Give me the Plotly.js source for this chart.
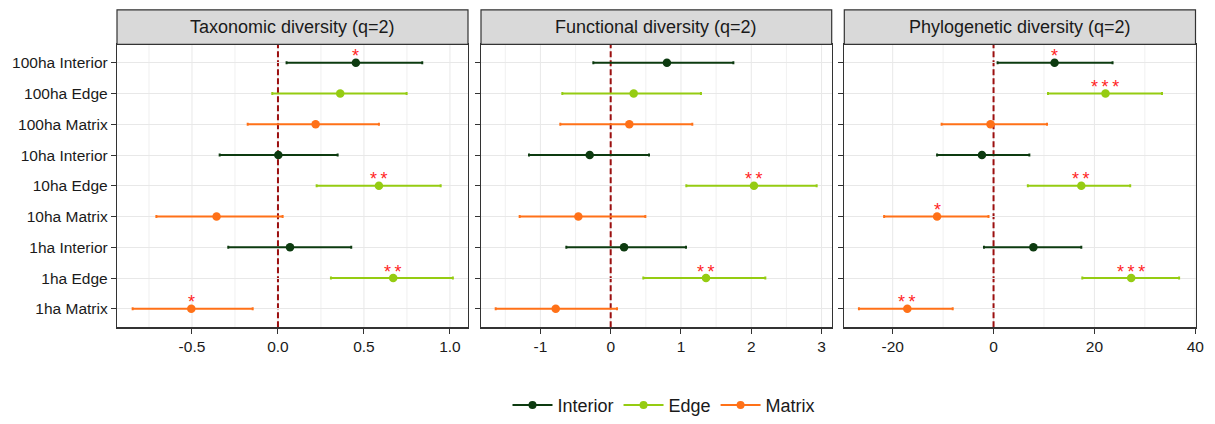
<!DOCTYPE html>
<html>
<head>
<meta charset="utf-8">
<script src="https://cdn.plot.ly/plotly-3.0.1.min.js"></script>
<style>html,body{margin:0;padding:0;background:#fff;}#chart{width:1215px;height:424px;}</style>
</head>
<body>
<div id="chart"></div>
<script>
// ---- Data ----
const categories = ['100ha Interior','100ha Edge','100ha Matrix','10ha Interior','10ha Edge','10ha Matrix','1ha Interior','1ha Edge','1ha Matrix'];
const groups = ['Interior','Edge','Matrix'];
const panelTitles = ['Taxonomic diversity (q=2)','Functional diversity (q=2)','Phylogenetic diversity (q=2)'];

const taxEst  = [0.453, 0.362, 0.219, 0.002, 0.587, -0.357, 0.070, 0.670, -0.504];
const taxLow  = [0.050, -0.033, -0.176, -0.339, 0.225, -0.707, -0.289, 0.308, -0.845];
const taxHigh = [0.839, 0.748, 0.587, 0.347, 0.946, 0.027, 0.426, 1.017, -0.147];
const taxSig  = ['*','','','','**','','','**','*'];

const funEst  = [0.800, 0.327, 0.265, -0.299, 2.038, -0.460, 0.190, 1.356, -0.782];
const funLow  = [-0.247, -0.688, -0.717, -1.162, 1.076, -1.295, -0.631, 0.464, -1.636];
const funHigh = [1.745, 1.284, 1.161, 0.545, 2.930, 0.493, 1.071, 2.200, 0.090];
const funSig  = ['','','','','**','','','**',''];

const phyEst  = [12.1, 22.2, -0.6, -2.3, 17.4, -11.2, 7.9, 27.3, -17.1];
const phyLow  = [0.8, 10.8, -10.3, -11.2, 6.8, -21.7, -1.9, 17.6, -26.7];
const phyHigh = [23.6, 33.4, 10.6, 7.1, 27.1, -1.0, 17.4, 36.8, -8.1];
const phySig  = ['*','***','','','**','*','','***','**'];

const xTicks0 = [-0.5, 0.0, 0.5, 1.0];
const xTickText0 = ['-0.5','0.0','0.5','1.0'];
const xTicks1 = [-1, 0, 1, 2, 3];
const xTicks2 = [-20, 0, 20, 40];

// ---- Styling ----
const colors = {Interior:'#0d3b10', Edge:'#95cc12', Matrix:'#ff7118'};
const W = 1215, H = 424;
const px = v => v / W, py = v => 1 - v / H;
const panels = [
  {est: taxEst, low: taxLow, high: taxHigh, sig: taxSig, dom:[117,468], range:[-0.936,1.105], minor:0.25, tickvals:xTicks0, ticktext:xTickText0},
  {est: funEst, low: funLow, high: funHigh, sig: funSig, dom:[481,831.7], range:[-1.845,3.144], minor:0.5, tickvals:xTicks1, ticktext:xTicks1.map(String)},
  {est: phyEst, low: phyLow, high: phyHigh, sig: phySig, dom:[844.3,1195.5], range:[-29.6,40.05], minor:10, tickvals:xTicks2, ticktext:xTicks2.map(String)}
];
const plotTop = 45, plotBottom = 332, stripTop = 10;
const font = 'Liberation Sans, Arial, sans-serif';

const traces = [];
const annotations = [];
const shapes = [];
const layout = {
  width: W, height: H,
  margin: {l:0, r:0, t:0, b:0},
  paper_bgcolor: '#ffffff', plot_bgcolor: 'rgba(0,0,0,0)',
  font: {family: font, color: '#1a1a1a'},
  showlegend: true,
  legend: {orientation:'h', x: 664/W, xanchor:'center', y: 1 - 411/H, yanchor:'middle', itemwidth: 40,
           font:{size:18, family:font, color:'#1a1a1a'}, itemclick:false, tracegroupgap:0},
  annotations: annotations, shapes: shapes
};

panels.forEach((p, k) => {
  const xa = 'x' + (k === 0 ? '' : k + 1), ya = 'y' + (k === 0 ? '' : k + 1);
  const xKey = 'xaxis' + (k === 0 ? '' : k + 1), yKey = 'yaxis' + (k === 0 ? '' : k + 1);
  layout[xKey] = {
    domain: [px(p.dom[0]), px(p.dom[1])], anchor: ya, range: p.range,
    tickmode: 'array', tickvals: p.tickvals, ticktext: p.ticktext,
    showgrid: false,
    zeroline: false, showline: true, mirror: true, linecolor: '#333333', linewidth: 1.2,
    ticks: 'outside', ticklen: 5, tickwidth: 1, tickcolor: '#333333',
    tickfont: {size: 15.5, family: font, color: '#1a1a1a'}, fixedrange: true
  };
  layout[yKey] = {
    domain: [py(plotBottom), py(plotTop)], anchor: xa,
    type: 'category', categoryorder: 'array', categoryarray: categories,
    range: [categories.length - 0.4, -0.6],
    showgrid: true, gridcolor: '#e8e8e8', gridwidth: 1,
    zeroline: false, showline: true, mirror: true, linecolor: '#333333', linewidth: 1.2,
    ticks: 'outside', ticklen: 5, tickwidth: 1, tickcolor: '#333333',
    showticklabels: k === 0,
    tickfont: {size: 15.5, family: font, color: '#1a1a1a'}, fixedrange: true
  };

  // vertical grid lines (major + minor), drawn as shapes beneath the zero line
  const gStart = Math.ceil(p.range[0] / p.minor), gEnd = Math.floor(p.range[1] / p.minor);
  for (let g = gStart; g <= gEnd; g++) {
    const gx = g * p.minor;
    const isMajor = p.tickvals.some(t => Math.abs(t - gx) < 1e-9);
    shapes.push({type:'line', xref: xa, yref: ya + ' domain', x0: gx, x1: gx, y0: 0, y1: 1, layer: 'below',
                 line: {color: isMajor ? '#e8e8e8' : '#ececec', width: isMajor ? 1 : 0.8}});
  }
  // reference line at zero
  shapes.push({type:'line', xref: xa, yref: ya + ' domain', x0: 0, x1: 0, y0: 0, y1: 1,
               line: {color:'#9b0f0f', width: 2, dash: '6px,3px'}, layer: 'below'});
  // strip
  shapes.push({type:'rect', xref:'paper', yref:'paper', x0: px(p.dom[0]), x1: px(p.dom[1]),
               y0: py(plotTop), y1: py(stripTop), fillcolor:'#d9d9d9', line:{color:'#333333', width:1.2}});
  annotations.push({xref:'paper', yref:'paper', x: px((p.dom[0] + p.dom[1]) / 2), y: py((plotTop + stripTop) / 2),
                    text: panelTitles[k], showarrow:false, xanchor:'center', yanchor:'middle',
                    font:{size:18, family:font, color:'#1a1a1a'}});

  groups.forEach(g => {
    const idx = categories.map((c, i) => c.endsWith(g) ? i : -1).filter(i => i >= 0);
    traces.push({
      type: 'scatter', mode: 'markers', xaxis: xa, yaxis: ya, showlegend: false, hoverinfo: 'skip',
      x: idx.map(i => p.est[i]), y: idx.map(i => categories[i]),
      marker: {color: colors[g], size: 8.5},
      error_x: {type:'data', symmetric:false,
                array: idx.map(i => p.high[i] - p.est[i]),
                arrayminus: idx.map(i => p.est[i] - p.low[i]),
                color: colors[g], thickness: 2, width: 1.5}
    });
  });

  p.sig.forEach((s, i) => {
    if (!s) return;
    annotations.push({xref: xa, yref: ya, x: p.est[i], y: categories[i], text: s.split('').join('\u2009'),
                      showarrow:false, xanchor:'center', yanchor:'middle', yshift: 6.5,
                      font:{size:18, family:font, color:'#ff1f1f'}});
  });
});

// legend entries
groups.forEach(g => {
  traces.push({type:'scatter', mode:'lines+markers', x:[null], y:[null], xaxis:'x', yaxis:'y',
               name: g, showlegend: true, line:{color: colors[g], width: 2}, marker:{color: colors[g], size: 8}});
});

Plotly.newPlot('chart', traces, layout, {displayModeBar:false, staticPlot:true});
</script>
</body>
</html>
